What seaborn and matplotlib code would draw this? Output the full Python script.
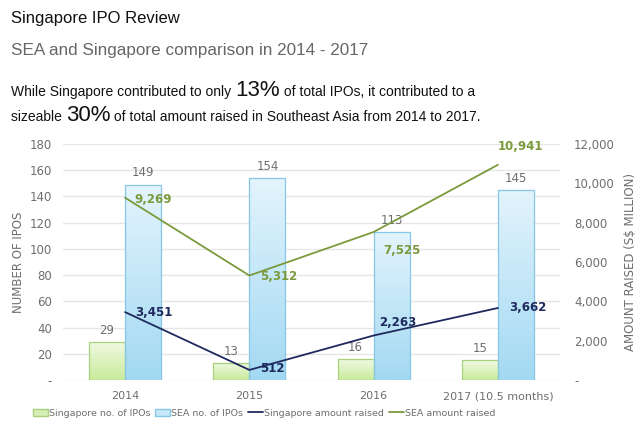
import numpy as np
import pandas as pd
import matplotlib
matplotlib.use("Agg")
import matplotlib.pyplot as plt
import seaborn as sns
from matplotlib.colors import LinearSegmentedColormap
from matplotlib.patches import Patch
from matplotlib.lines import Line2D

categories = ["2014", "2015", "2016", "2017 (10.5 months)"]
sg_ipos = [29, 13, 16, 15]
sea_ipos = [149, 154, 113, 145]
sg_amount = [3451, 512, 2263, 3662]
sea_amount = [9269, 5312, 7525, 10941]
left_ticks = [0, 20, 40, 60, 80, 100, 120, 140, 160, 180]
right_ticks = [0, 2000, 4000, 6000, 8000, 10000, 12000]

sns.set_theme(style="white")
plt.rcParams["font.family"] = ["DejaVu Sans"]

GRAY = "#6e6e6e"
SG_LINE = "#1e2a5e"
SEA_LINE = "#7b9a3c"
HEAD_FONT = ["Liberation Sans", "DejaVu Sans"]

bars = pd.DataFrame({
    "year": categories * 2,
    "ipos": sg_ipos + sea_ipos,
    "series": ["Singapore no. of IPOs"] * 4 + ["SEA no. of IPOs"] * 4,
})

fig = plt.figure(figsize=(6.4, 4.32), dpi=100)
ax = fig.add_axes([63 / 640, 1 - 380 / 432, (560 - 63) / 640, (380 - 144) / 432])

sns.barplot(data=bars, x="year", y="ipos", hue="series", ax=ax, width=0.58,
            palette=["#d6f0b4", "#bfe6f8"], legend=False, saturation=1)

grad_specs = {
    "Singapore no. of IPOs": ("#f0f9e4", "#c9eb9b", "#a9d07c"),
    "SEA no. of IPOs": ("#e3f4fc", "#a3d9f3", "#86c6e6"),
}
patches = [p for p in ax.patches if p.get_height() > 0]
for i, p in enumerate(patches):
    s = bars["series"].iloc[i]
    top, bot, edge = grad_specs[s]
    cmap = LinearSegmentedColormap.from_list("g", [bot, top])
    x0, y0 = p.get_x(), p.get_y()
    w, h = p.get_width(), p.get_height()
    p.set_facecolor("none")
    p.set_edgecolor(edge)
    p.set_linewidth(0.9)
    p.set_zorder(3)
    grad = np.linspace(0, 1, 100).reshape(-1, 1)
    im = ax.imshow(grad, cmap=cmap, extent=[x0, x0 + w, y0, y0 + h],
                   origin="lower", aspect="auto", zorder=2)
    im.set_clip_path(p)
    ax.text(x0 + w / 2, y0 + h + 4, f"{bars['ipos'].iloc[i]:d}",
            ha="center", va="bottom", fontsize=8.5, color=GRAY, zorder=5)

ax.set_xlim(-0.5, len(categories) - 0.5)
ax.set_ylim(0, 180)
ax.set_yticks(left_ticks)
ax.set_yticklabels(["-"] + [str(t) for t in left_ticks[1:]])
ax.yaxis.grid(True, color="#e6e6e6", linewidth=1)
ax.set_axisbelow(True)
for sp in ax.spines.values():
    sp.set_visible(False)
ax.tick_params(axis="y", length=0, labelsize=8.5, labelcolor=GRAY, pad=8)
ax.tick_params(axis="x", length=0, labelsize=8, labelcolor=GRAY, pad=8)
ax.set_xlabel("")
ax.set_ylabel("NUMBER OF IPOS", fontsize=8.5, color=GRAY, labelpad=3)

ax2 = ax.twinx()
xpos = np.arange(len(categories))
lines = pd.DataFrame({
    "x": np.concatenate([xpos, xpos]),
    "amount": sg_amount + sea_amount,
    "series": ["Singapore amount raised"] * 4 + ["SEA amount raised"] * 4,
})
sns.lineplot(data=lines, x="x", y="amount", hue="series",
             palette={"Singapore amount raised": SG_LINE, "SEA amount raised": SEA_LINE},
             ax=ax2, legend=False, linewidth=1.3, zorder=6)
ax2.set_ylim(0, 12000)
ax2.set_yticks(right_ticks)
ax2.set_yticklabels(["-"] + [f"{t:,}" for t in right_ticks[1:]])
for sp in ax2.spines.values():
    sp.set_visible(False)
ax2.tick_params(axis="both", length=0, labelsize=8.5, labelcolor=GRAY, pad=10)
ax2.set_xlabel("")
ax2.set_ylabel("AMOUNT RAISED (S$ MILLION)", fontsize=8.5, color=GRAY, labelpad=7)
ax2.set_xlim(-0.5, len(categories) - 0.5)

sg_offsets = [(7, 0, "left", "center"), (8, 1, "left", "center"),
              (4, 9, "left", "center"), (8, 0, "left", "center")]
sea_offsets = [(7, -1, "left", "center"), (8, -1, "left", "center"),
               (7, -13, "left", "center"), (0, 13, "left", "center")]
for i in range(len(categories)):
    dx, dy, ha, va = sg_offsets[i]
    ax2.annotate(f"{sg_amount[i]:,}", (xpos[i], sg_amount[i]), xytext=(dx, dy),
                 textcoords="offset points", ha=ha, va=va, fontsize=8.5,
                 fontweight="bold", color=SG_LINE, zorder=7)
    dx, dy, ha, va = sea_offsets[i]
    ax2.annotate(f"{sea_amount[i]:,}", (xpos[i], sea_amount[i]), xytext=(dx, dy),
                 textcoords="offset points", ha=ha, va=va, fontsize=8.5,
                 fontweight="bold", color=SEA_LINE, zorder=7)

# Legend
handles = [
    Patch(facecolor="#d6f0b4", edgecolor="#a9d07c", label="Singapore no. of IPOs"),
    Patch(facecolor="#c6e8f8", edgecolor="#86c6e6", label="SEA no. of IPOs"),
    Line2D([], [], color=SG_LINE, lw=1.3, label="Singapore amount raised"),
    Line2D([], [], color=SEA_LINE, lw=1.3, label="SEA amount raised"),
]
leg = fig.legend(handles=handles, loc="center", bbox_to_anchor=(264 / 640, 1 - 413 / 432),
                 ncol=4, frameon=False, fontsize=6.8, handlelength=1.6,
                 handleheight=0.7, handletextpad=0.1, columnspacing=0.5)
for t in leg.get_texts():
    t.set_color(GRAY)

# Titles
fig.text(11 / 640, 1 - 23 / 432, "Singapore IPO Review", fontsize=12, color="#111111",
         ha="left", va="baseline", family=HEAD_FONT)
fig.text(11 / 640, 1 - 55 / 432, "SEA and Singapore comparison in 2014 - 2017",
         fontsize=12.3, color="#666666", ha="left", va="baseline", family=HEAD_FONT)

renderer = fig.canvas.get_renderer()


def rich_line(y_px, segments):
    x = 11 / 640
    for txt, size in segments:
        t = fig.text(x, 1 - y_px / 432, txt, fontsize=size, color="#111111",
                     ha="left", va="baseline", family=HEAD_FONT)
        bb = t.get_window_extent(renderer=renderer)
        x += bb.width / fig.bbox.width


rich_line(96, [("While Singapore contributed to only ", 10.0), ("13%", 16),
               (" of total IPOs, it contributed to a", 10.0)])
rich_line(121, [("sizeable ", 10.0), ("30%", 16),
                (" of total amount raised in Southeast Asia from 2014 to 2017.", 10.0)])

fig.savefig("out.png", dpi=100)
